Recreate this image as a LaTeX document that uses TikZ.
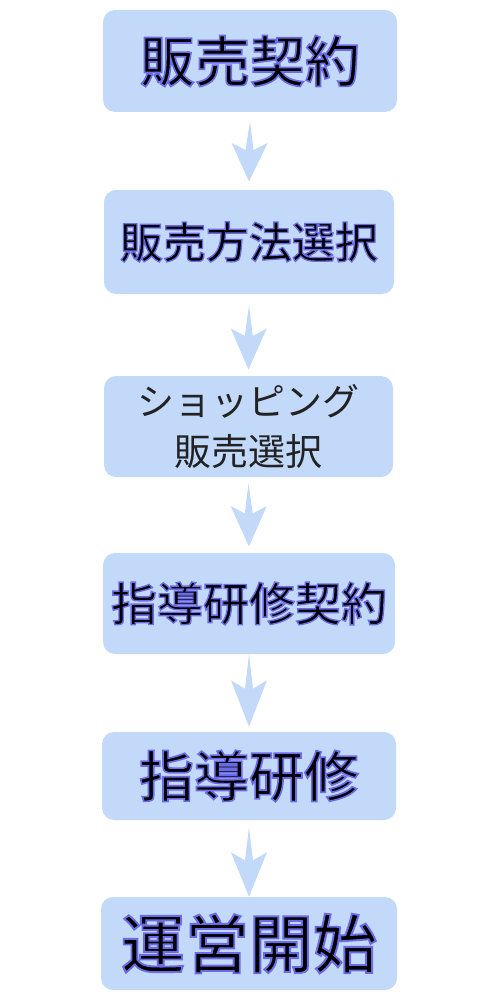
\documentclass[tikz,border=0pt]{standalone}
\usepackage{fontspec}
\usetikzlibrary{calc}
\newfontfamily\jpo{Noto Sans CJK JP}[UprightFont=* Medium,FakeBold=3]
\newfontfamily\jpn{Noto Sans CJK JP}
\definecolor{boxc}{RGB}{194,217,250}
\definecolor{dartc}{RGB}{194,217,249}
\definecolor{labc}{RGB}{34,34,34}
\newcommand\outl[1]{\special{pdf:bcolor [0 0 0] [0.42 0.42 0.90]}#1\special{pdf:ecolor}}
\newcommand\dartarrow[5]{%
  \coordinate (#1t) at ($(#2.south)+(0,#4)$);
  \coordinate (#1b) at ($(#3.north)+(0,#5)$);
  \fill[dartc] (#1t) -- ($(#1t)!0.475!(#1b)+(4,0)$) -- ($(#1t)!0.36!(#1b)+(18,0)$) -- (#1b)
    -- ($(#1t)!0.36!(#1b)+(-18,0)$) -- ($(#1t)!0.475!(#1b)+(-4,0)$) -- cycle;}
\begin{document}
\begin{tikzpicture}[x=0.5pt,y=-0.5pt,
  stepbox/.style={fill=boxc,rounded corners=6pt,inner sep=0pt,text=black}]
\useasboundingbox (0,0) rectangle (500,1000);
\node[stepbox,minimum width=147pt,minimum height=51pt] (b1) at (250,61)
  {\jpo\fontsize{27.5pt}{30pt}\selectfont\outl{販売契約}};
\node[stepbox,minimum width=145pt,minimum height=52pt] (b2) at (249,242)
  {\jpo\fontsize{21.5pt}{24pt}\selectfont\outl{販売方法選択}};
\node[stepbox,minimum width=144.5pt,minimum height=50.5pt,text=labc,align=center,
  font={\jpn\fontsize{18.5pt}{25pt}\selectfont}] (b3) at (248.5,426.5)
  {ショッピング\\販売選択};
\node[stepbox,minimum width=146pt,minimum height=50.5pt] (b4) at (249,603.5)
  {\jpo\fontsize{23pt}{26pt}\selectfont\outl{指導研修契約}};
\node[stepbox,minimum width=147pt,minimum height=44pt] (b5) at (249,776)
  {\jpo\fontsize{27.5pt}{30pt}\selectfont\outl{指導研修}};
\node[stepbox,minimum width=148pt,minimum height=46.5pt] (b6) at (249,943.5)
  {\jpo\fontsize{32pt}{35pt}\selectfont\outl{運営開始}};
\dartarrow{a1}{b1}{b2}{9}{-8}
\dartarrow{a2}{b2}{b3}{11}{-6}
\dartarrow{a3}{b3}{b4}{6}{-6}
\dartarrow{a4}{b4}{b5}{0}{-5}
\dartarrow{a5}{b5}{b6}{7}{0}
\end{tikzpicture}
\end{document}
